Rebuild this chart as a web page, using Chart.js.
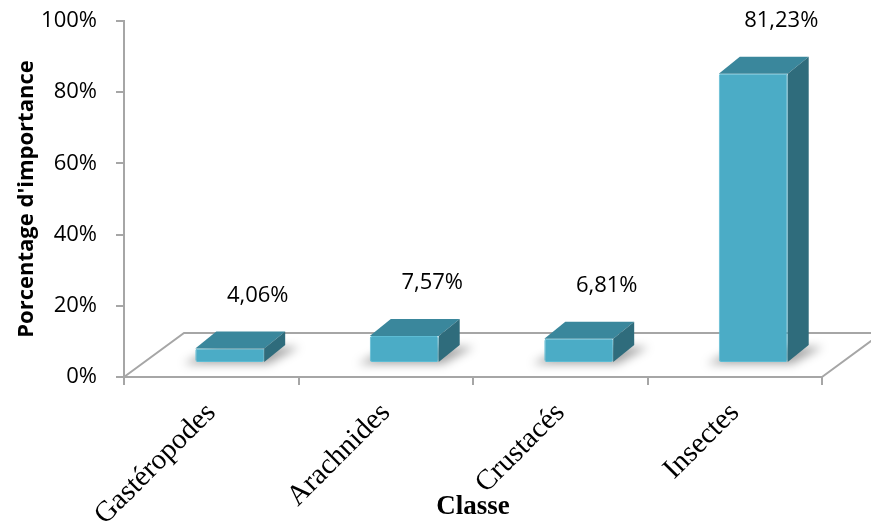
<!DOCTYPE html>
<html>
<head>
<meta charset="utf-8">
<script src="https://cdn.jsdelivr.net/npm/chart.js@4.4.1/dist/chart.umd.min.js"></script>
<style>
  html, body { margin: 0; padding: 0; background: #fff; }
  #wrap { width: 871px; height: 527px; }
</style>
</head>
<body>
<div id="wrap"><canvas id="chart1"></canvas></div>
<script>
// classes and their share of importance (%)
var categories = ["Gastéropodes", "Arachnides", "Crustacés", "Insectes"];
var percentages = [4.06, 7.57, 6.81, 81.23];
var yTicks = [0, 20, 40, 60, 80, 100];

// 3D look: floor depth, where the bar front sits inside the floor, bar depth
var floorDepth = { dx: 60, dy: -44 };
var inset = { dx: 18.5, dy: -14 };
var depth = { dx: 21, dy: -17 };

var frontColor = "#4BACC6";
var topColor = "#3A879C";
var sideColor = "#2F6C7C";
var lineGrey = "#A6A6A6";

function fmt(v) {
    return v.toFixed(2).replace(".", ",") + "%";
}

var box3d = {
    id: "box3d",
    beforeDatasetsDraw: function (chart) {
        var ctx = chart.ctx;
        var area = chart.chartArea;
        var y0 = chart.scales.y.getPixelForValue(0);

        // floor outline (front edge is the x axis itself)
        ctx.save();
        ctx.strokeStyle = lineGrey;
        ctx.lineWidth = 2;
        ctx.beginPath();
        ctx.moveTo(area.left, y0);
        ctx.lineTo(area.left + floorDepth.dx, y0 + floorDepth.dy);
        ctx.lineTo(area.right + floorDepth.dx, y0 + floorDepth.dy);
        ctx.lineTo(area.right, y0);
        ctx.stroke();

        // soft shadows under the boxes
        var meta = chart.getDatasetMeta(0);
        ctx.filter = "blur(5px)";
        ctx.fillStyle = "rgba(0,0,0,0.35)";
        meta.data.forEach(function (bar) {
            var xl = bar.x - bar.width / 2 + inset.dx;
            var xr = bar.x + bar.width / 2 + inset.dx;
            var yb = bar.base + inset.dy;
            ctx.beginPath();
            ctx.moveTo(xl - 12, yb + 2);
            ctx.lineTo(xr + 4, yb + 2);
            ctx.lineTo(xr + depth.dx + 14, yb + depth.dy + 2);
            ctx.lineTo(xl + depth.dx, yb + depth.dy + 2);
            ctx.closePath();
            ctx.fill();
        });
        ctx.restore();

        // the front faces are drawn by Chart.js, pushed back into the floor
        ctx.save();
        ctx.translate(inset.dx, inset.dy);
    },
    afterDatasetsDraw: function (chart) {
        var ctx = chart.ctx;
        ctx.restore();

        var meta = chart.getDatasetMeta(0);
        meta.data.forEach(function (bar, i) {
            var xl = bar.x - bar.width / 2 + inset.dx;
            var xr = bar.x + bar.width / 2 + inset.dx;
            var yt = bar.y + inset.dy;
            var yb = bar.base + inset.dy;

            ctx.save();
            // top face
            ctx.fillStyle = topColor;
            ctx.beginPath();
            ctx.moveTo(xl, yt);
            ctx.lineTo(xr, yt);
            ctx.lineTo(xr + depth.dx, yt + depth.dy);
            ctx.lineTo(xl + depth.dx, yt + depth.dy);
            ctx.closePath();
            ctx.fill();
            // right side face
            ctx.fillStyle = sideColor;
            ctx.beginPath();
            ctx.moveTo(xr, yt);
            ctx.lineTo(xr + depth.dx, yt + depth.dy);
            ctx.lineTo(xr + depth.dx, yb + depth.dy);
            ctx.lineTo(xr, yb);
            ctx.closePath();
            ctx.fill();

            // value label
            ctx.fillStyle = "#000";
            ctx.font = "22px 'Open Sans'";
            ctx.textAlign = "center";
            ctx.textBaseline = "middle";
            ctx.fillText(fmt(percentages[i]), bar.x + inset.dx + depth.dx + 7, yt + depth.dy - 36);
            ctx.restore();
        });
    }
};

new Chart(document.getElementById("chart1"), {
    type: "bar",
    data: {
        labels: categories,
        datasets: [{
            label: "Porcentage d'importance",
            data: percentages,
            backgroundColor: frontColor,
            borderColor: "#5DBCD4",
            borderWidth: 1,
            borderRadius: 2,
            borderSkipped: false,
            categoryPercentage: 1,
            barPercentage: 0.395,
            clip: false
        }]
    },
    options: {
        responsive: true,
        maintainAspectRatio: false,
        animation: false,
        events: [],
        layout: { padding: { top: 21, right: 49, left: 0, bottom: 0 } },
        plugins: {
            legend: { display: false },
            tooltip: { enabled: false }
        },
        scales: {
            x: {
                grid: { drawOnChartArea: false, drawTicks: true, tickLength: 8, color: lineGrey, lineWidth: 2 },
                border: { color: lineGrey, width: 2 },
                ticks: {
                    minRotation: 45,
                    maxRotation: 45,
                    padding: 11,
                    color: "#000",
                    font: { family: "'Liberation Serif', 'Times New Roman', serif", size: 29 }
                },
                title: {
                    display: true,
                    text: "Classe",
                    color: "#000",
                    padding: { top: 4, bottom: 4 },
                    font: { family: "'Liberation Serif', 'Times New Roman', serif", size: 27, weight: "bold" }
                },
                afterFit: function (scale) {
                    scale.height = 150;
                    scale.paddingLeft = 0;
                    scale.paddingRight = 0;
                }
            },
            y: {
                min: 0,
                max: 100,
                afterBuildTicks: function (scale) {
                    scale.ticks = yTicks.map(function (v) { return { value: v }; });
                },
                grid: { drawOnChartArea: false, drawTicks: true, tickLength: 8, color: lineGrey, lineWidth: 2 },
                border: { color: lineGrey, width: 2 },
                ticks: {
                    padding: 19,
                    color: "#000",
                    font: { family: "'Open Sans', sans-serif", size: 22 },
                    callback: function (v) { return v + "%"; }
                },
                title: {
                    display: true,
                    text: "Porcentage d'importance",
                    color: "#000",
                    padding: { top: 14, bottom: 0 },
                    font: { family: "'Open Sans', sans-serif", size: 22, weight: "bold" }
                },
                afterFit: function (scale) {
                    scale.width = 124;
                    scale.paddingTop = 0;
                    scale.paddingBottom = 0;
                }
            }
        }
    },
    plugins: [box3d]
});
</script>
</body>
</html>
